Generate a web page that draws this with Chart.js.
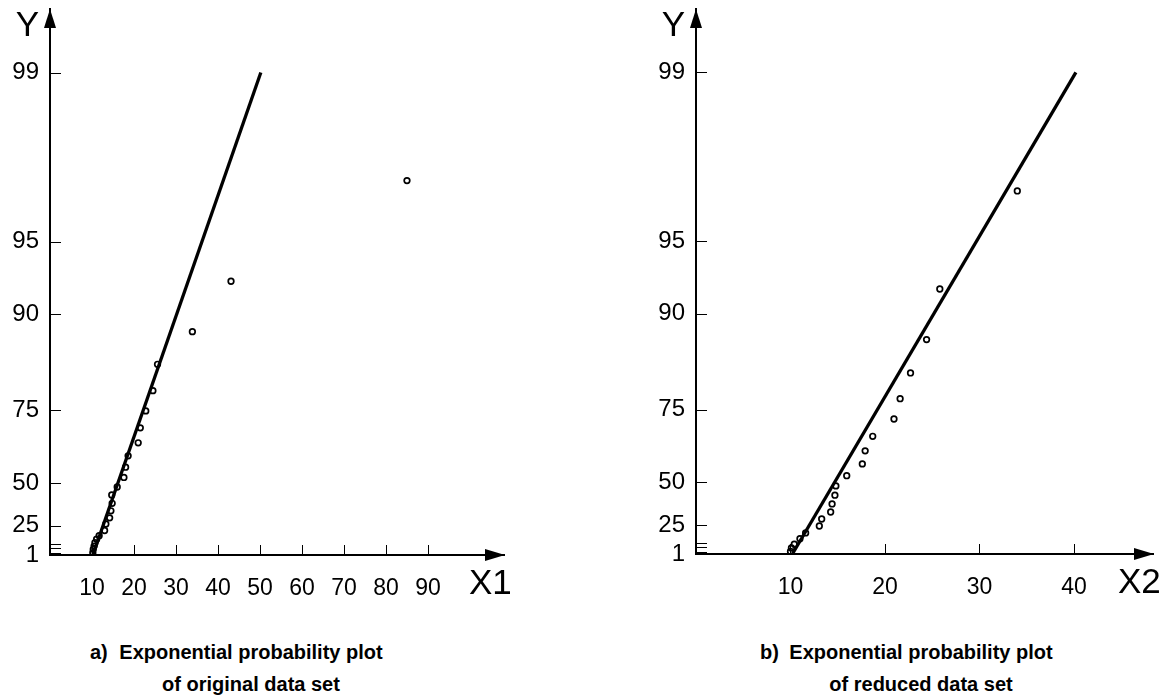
<!DOCTYPE html>
<html>
<head>
<meta charset="utf-8">
<script src="https://cdn.jsdelivr.net/npm/chart.js@4.4.1/dist/chart.umd.min.js"></script>
<style>
  body { margin: 0; background: #fff; width: 1164px; height: 695px; position: relative; overflow: hidden; }
  canvas { position: absolute; top: 0; }
  .cap { position: absolute; font: bold 20px "Liberation Sans", Arial, sans-serif; line-height: 32px; color: #000; }
</style>
</head>
<body>
<canvas id="plotA" width="582" height="610" style="left:0"></canvas>
<canvas id="plotB" width="582" height="610" style="left:582px"></canvas>

<div class="cap" style="left:90px;top:636px">a)</div>
<div class="cap" style="left:116px;top:636px;width:270px;text-align:center">Exponential probability plot<br>of original data set</div>
<div class="cap" style="left:760px;top:636px">b)</div>
<div class="cap" style="left:786px;top:636px;width:270px;text-align:center">Exponential probability plot<br>of reduced data set</div>

<script>
// probability ticks (percent) on the Y axis, plus the short unlabelled ones near the bottom
const yTickPct = [1, 25, 50, 75, 90, 95, 99];
const yMinorPct = [3, 7, 11];

// original data set
const x1Values = [10.2, 10.3, 10.5, 10.7, 11.1, 11.7, 13.0, 13.3, 14.2, 14.5, 14.8, 14.7,
  16.0, 17.6, 18.0, 18.6, 21.0, 21.5, 22.8, 24.5, 25.6, 33.9, 43.1, 85.0];
const y1Pct = [3.1, 6.2, 9.1, 11.9, 14.8, 17.6, 21.6, 26.3, 30.5, 35.0, 39.5, 44.1,
  48.2, 52.7, 57.1, 61.5, 66.0, 70.5, 74.9, 79.3, 83.9, 88.2, 92.7, 97.2];
const fit1X = [10.2, 50.2];
const fit1Pct = [1, 99];
const x1Ticks = [10, 20, 30, 40, 50, 60, 70, 80, 90];

// reduced data set
const x2Values = [10.0, 10.1, 10.4, 11.0, 11.6, 13.05, 13.3, 14.25, 14.4, 14.7, 14.8,
  15.95, 17.6, 17.9, 18.7, 20.95, 21.6, 22.7, 24.4, 25.8, 34.0];
const y2Pct = [3.4, 6.5, 9.8, 14.5, 19.0, 24.2, 29.1, 33.7, 38.6, 43.5, 48.3,
  53.1, 58.1, 63.0, 67.8, 72.7, 77.5, 82.4, 87.2, 92.1, 96.9];
const fit2X = [10.2, 40.2];
const fit2Pct = [1, 99];
const x2Ticks = [10, 20, 30, 40];

const FONT = '"Liberation Sans", Arial, sans-serif';

// exponential probability paper: plot -ln(1 - p)
const toExp = p => -Math.log(1 - p / 100);
const pairs = (xs, ps) => xs.map((x, i) => ({ x: x, y: toExp(ps[i]) }));

const axisDecor = {
  id: 'axisDecor',
  beforeDatasetsDraw(chart) {
    const { ctx, chartArea: a, scales: { x, y } } = chart;
    ctx.save();
    ctx.strokeStyle = '#000';
    ctx.lineWidth = 1;
    // ticks point inwards
    x.ticks.forEach(t => {
      const px = Math.round(x.getPixelForValue(t.value)) + 0.5;
      ctx.beginPath();
      ctx.moveTo(px, a.bottom);
      ctx.lineTo(px, a.bottom - 10);
      ctx.stroke();
    });
    y.ticks.forEach(t => {
      const py = Math.round(y.getPixelForValue(t.value)) + 0.5;
      ctx.beginPath();
      ctx.moveTo(a.left, py);
      ctx.lineTo(a.left + 11, py);
      ctx.stroke();
    });
    ctx.restore();
  },
  afterDraw(chart, args, opts) {
    const { ctx, chartArea: a } = chart;
    ctx.save();
    ctx.fillStyle = '#000';
    // arrowheads
    ctx.beginPath();
    ctx.moveTo(a.left, a.top);
    ctx.lineTo(a.left - 6, a.top + 19);
    ctx.lineTo(a.left + 6, a.top + 19);
    ctx.closePath();
    ctx.fill();
    ctx.beginPath();
    ctx.moveTo(a.right + 1, a.bottom);
    ctx.lineTo(a.right - 19, a.bottom - 6);
    ctx.lineTo(a.right - 19, a.bottom + 6);
    ctx.closePath();
    ctx.fill();
    // axis names
    ctx.font = '35px ' + FONT;
    ctx.textBaseline = 'alphabetic';
    ctx.textAlign = 'right';
    ctx.fillText('Y', a.left - 11, 36);
    ctx.textAlign = 'left';
    ctx.fillText(opts.xName, a.right - 35, a.bottom + 39);
    ctx.restore();
  }
};

function createPlot(canvasId, opts) {
  return new Chart(document.getElementById(canvasId), {
    data: {
      datasets: [
        {
          type: 'line',
          data: pairs(opts.fitX, opts.fitPct),
          borderColor: '#000',
          borderWidth: 3.3,
          pointRadius: 0,
          clip: false,
        },
        {
          type: 'scatter',
          data: pairs(opts.xs, opts.ps),
          pointStyle: 'circle',
          pointRadius: 2.8,
          borderWidth: 1.7,
          borderColor: '#000',
          backgroundColor: 'rgba(0,0,0,0)',
        },
      ],
    },
    options: {
      responsive: false,
      animation: false,
      events: [],
      layout: { padding: { top: 9, right: opts.padRight, left: 0, bottom: 0 } },
      scales: {
        x: {
          type: 'linear',
          min: 0,
          max: opts.xMax,
          afterBuildTicks: (s) => { s.ticks = opts.xTicks.map(v => ({ value: v })); },
          afterFit: (s) => {
            s.height = 610 - opts.bottom;
            s.paddingLeft = 0;
            s.paddingRight = 0;
          },
          grid: { display: false, drawTicks: false },
          border: { display: true, color: '#000', width: 2 },
          ticks: {
            autoSkip: false,
            maxRotation: 0,
            padding: 20,
            color: '#000',
            font: { family: FONT, size: 23 },
          },
        },
        y: {
          type: 'linear',
          min: toExp(1),
          max: 5.21,
          afterBuildTicks: (s) => {
            s.ticks = yTickPct.concat(yMinorPct).map(p => ({ value: toExp(p) }));
          },
          afterFit: (s) => {
            s.width = opts.left;
            s.paddingTop = 0;
            s.paddingBottom = 0;
          },
          grid: { display: false, drawTicks: false },
          border: { display: true, color: '#000', width: 2 },
          ticks: {
            autoSkip: false,
            padding: 11,
            color: '#000',
            font: { family: FONT, size: 24 },
            callback: (value, i) => (i < yTickPct.length ? String(yTickPct[i]) : ''),
          },
        },
      },
      plugins: {
        legend: { display: false },
        tooltip: { enabled: false },
        axisDecor: { xName: opts.xName },
      },
    },
    plugins: [axisDecor],
  });
}

createPlot('plotA', {
  xs: x1Values, ps: y1Pct, fitX: fit1X, fitPct: fit1Pct,
  xTicks: x1Ticks, xMax: 108.1, xName: 'X1',
  left: 50, padRight: 78, bottom: 555,
});

createPlot('plotB', {
  xs: x2Values, ps: y2Pct, fitX: fit2X, fitPct: fit2Pct,
  xTicks: x2Ticks, xMax: 48.36, xName: 'X2',
  left: 114, padRight: 11, bottom: 554,
});
</script>
</body>
</html>
